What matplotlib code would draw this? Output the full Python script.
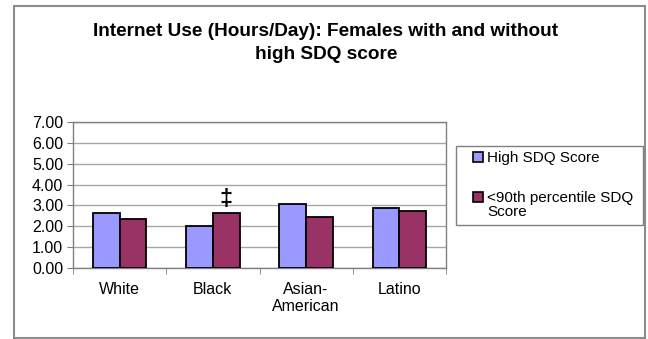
import numpy as np
import matplotlib
matplotlib.use("Agg")
import matplotlib.pyplot as plt
from matplotlib.patches import Rectangle

plt.rcParams['font.family'] = ['Liberation Sans', 'DejaVu Sans']

# Données
groups = ["White", "Black", "Asian-\nAmerican", "Latino"]
high_sdq = [2.65, 2.01, 3.06, 2.86]
low_sdq = [2.33, 2.65, 2.46, 2.73]
series_names = ["High SDQ Score", "<90th percentile SDQ\nScore"]
colors = ["#9999FF", "#993366"]
flag_group = 1  # groupe marqué par ‡

W, H = 648, 339
fig = plt.figure(figsize=(W / 100, H / 100), dpi=100)

def px(x0, y0, x1, y1):
    # rectangle en pixels (origine en haut à gauche) -> fractions de figure
    return [x0 / W, 1 - y1 / H, (x1 - x0) / W, (y1 - y0) / H]

# Cadre extérieur
fig.patches.append(Rectangle((14 / W, 1 - 338 / H), (645 - 14) / W, (338 - 6) / H,
                             transform=fig.transFigure, fill=False,
                             edgecolor="#8c8c8c", linewidth=1.5))

ax = fig.add_axes(px(73, 122, 446, 268))
x = np.arange(len(groups))
w = 0.286
b1 = ax.bar(x - w / 2, high_sdq, w, color=colors[0], edgecolor="black", linewidth=1.3, zorder=3)
b2 = ax.bar(x + w / 2, low_sdq, w, color=colors[1], edgecolor="black", linewidth=1.3, zorder=3)

ax.set_xlim(-0.5, len(groups) - 0.5)
ax.set_ylim(0, 7)
ax.set_yticks(np.arange(0, 8))
ax.set_yticklabels([f"{v:.2f}" for v in range(8)], fontsize=11.5)
ax.yaxis.grid(True, color="#a6a6a6", linewidth=1.0, zorder=0)
ax.set_xticks(x)
ax.set_xticklabels(groups, fontsize=11.5, linespacing=1.15)
ax.set_xticks(np.arange(-0.5, len(groups)), minor=True)
ax.tick_params(axis="x", which="major", length=0, pad=10)
ax.tick_params(axis="x", which="minor", length=4, color="#808080", direction="out")
ax.tick_params(axis="y", length=4, color="#808080", pad=3)
for s in ax.spines.values():
    s.set_color("#808080")
    s.set_linewidth(1.0)

ax.annotate("‡", (x[flag_group] + w / 2, low_sdq[flag_group]), xytext=(0, 1.5),
            textcoords="offset points", ha="center", va="bottom",
            fontsize=17, fontweight="bold")

fig.text(326 / W, 1 - 43 / H, "Internet Use (Hours/Day): Females with and without\nhigh SDQ score",
         ha="center", va="center", fontsize=13.7, fontweight="bold", linespacing=1.5)

# Légende
fig.patches.append(Rectangle((456 / W, 1 - 225 / H), (643 - 456) / W, (225 - 146) / H,
                             transform=fig.transFigure, fill=False,
                             edgecolor="#808080", linewidth=1.0))
entries = [(157, 158), (197, 205)]
for (yk, yt), name, c in zip(entries, series_names, colors):
    fig.patches.append(Rectangle((473 / W, 1 - (yk + 5) / H), 10 / W, 10 / H,
                                 transform=fig.transFigure, facecolor=c,
                                 edgecolor="black", linewidth=1.2))
    fig.text(487 / W, 1 - yt / H, name, ha="left", va="center", fontsize=11, linespacing=1.05)

fig.savefig("out.png", dpi=100, facecolor="white")
